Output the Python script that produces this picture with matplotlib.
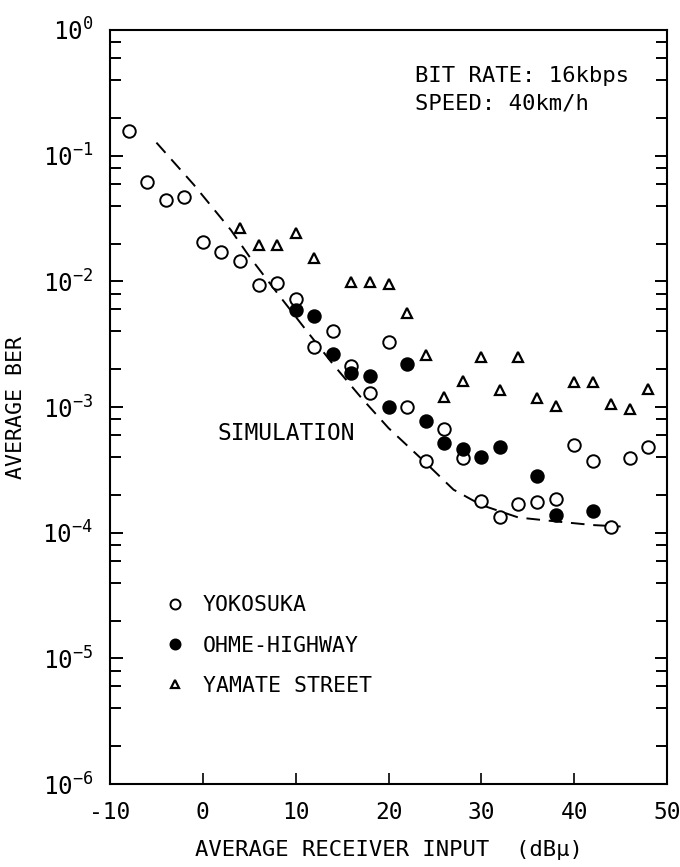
import numpy as np
import matplotlib
matplotlib.use("Agg")
import matplotlib.pyplot as plt
from matplotlib.ticker import LogLocator, FixedLocator, NullFormatter

# ---- measured BER vs receiver input ----
yoko_x = [-8, -6, -4, -2, 0, 2, 4, 6, 8, 10, 12, 14, 16, 18, 20, 22, 24, 26, 28, 30,
          32, 34, 36, 38, 40, 42, 44, 46, 48]
yoko_ber = [0.158, 0.0614, 0.0444, 0.0467, 0.0207, 0.0172, 0.0146, 0.00935, 0.00977,
            0.0072, 0.00303, 0.00403, 0.00213, 0.0013, 0.00331, 0.000996, 0.000373,
            0.000665, 0.000392, 0.000180, 0.000134, 0.000169, 0.000177, 0.000186,
            0.000499, 0.000373, 0.000111, 0.000392, 0.000479]

ohme_x = [10, 12, 14, 16, 18, 20, 22, 24, 26, 28, 30, 32, 36, 38, 42]
ohme_ber = [0.00592, 0.0053, 0.00264, 0.00186, 0.00177, 0.000996, 0.00219, 0.00078,
            0.000515, 0.000463, 0.000400, 0.000484, 0.000283, 0.000139, 0.00015]

yamate_x = [4, 6, 8, 10, 12, 16, 18, 20, 22, 24, 26, 28, 30, 32, 34, 36, 38, 40, 42,
            44, 46, 48]
yamate_ber = [0.0264, 0.0195, 0.0195, 0.0244, 0.0154, 0.00995, 0.00995, 0.0095,
              0.00564, 0.0026, 0.0012, 0.00161, 0.0025, 0.00137, 0.0025, 0.00117,
              0.00101, 0.00159, 0.00159, 0.00106, 0.00096, 0.00139]

# simulation curve
sim_x = [-5, -1, 3, 5, 8, 11, 14, 17, 20, 24, 27, 30, 34, 38, 42, 45]
sim_ber = [0.127, 0.059, 0.0257, 0.0158, 0.0081, 0.0042, 0.0022, 0.0012, 0.00068,
           0.00036, 0.00022, 0.000166, 0.000132, 0.000123, 0.000115, 0.000112]

x_ticks = [-10, 0, 10, 20, 30, 40, 50]
y_ticks = [1e-6, 1e-5, 1e-4, 1e-3, 1e-2, 1e-1, 1e0]
y_ticklabels = [r"$\mathregular{10^{%d}}$" % e for e in range(-6, 1)]

plt.rcParams["font.family"] = ["DejaVu Sans Mono"]
plt.rcParams["axes.unicode_minus"] = False

fig = plt.figure(figsize=(6.8, 8.67), dpi=100)
ax = fig.add_axes([0.1618, 0.0957, 0.8191, 0.8697])

ax.plot(sim_x, sim_ber, color="black", lw=1.4, dashes=(7, 4.5))
ax.plot(yoko_x, yoko_ber, "o", ms=9, mfc="white", mec="black", mew=1.4,
        linestyle="none", label="YOKOSUKA")
ax.plot(ohme_x, ohme_ber, "o", ms=9, mfc="black", mec="black", mew=1.4,
        linestyle="none", label="OHME-HIGHWAY")
ax.plot(yamate_x, yamate_ber, "^", ms=6.5, mfc="white", mec="black", mew=1.6,
        linestyle="none", label="YAMATE STREET")

ax.set_yscale("log")
ax.set_xlim(-10, 50)
ax.set_ylim(1e-6, 1e0)

ax.xaxis.set_major_locator(FixedLocator(x_ticks))
ax.set_xticklabels([str(v) for v in x_ticks], fontsize=16.5)
ax.yaxis.set_major_locator(FixedLocator(y_ticks))
ax.set_yticklabels(y_ticklabels, fontsize=17.5)
ax.yaxis.set_minor_locator(LogLocator(base=10, subs=[2, 4, 6, 8]))
ax.yaxis.set_minor_formatter(NullFormatter())

ax.tick_params(axis="x", which="both", direction="in", top=False, bottom=True,
               length=8, width=1.2, pad=12)
ax.tick_params(axis="y", which="major", direction="in", left=True, right=True,
               length=9, width=1.4, pad=12)
ax.tick_params(axis="y", which="minor", direction="in", left=True, right=True,
               length=8, width=1.4)
for sp in ax.spines.values():
    sp.set_linewidth(1.5)

ax.set_xlabel("AVERAGE RECEIVER INPUT  (dB\u03bc)", fontsize=16, labelpad=12)
ax.set_ylabel("AVERAGE BER", fontsize=15.5, labelpad=12)

ax.text(1.6, 6.2e-4, "SIMULATION", fontsize=16.5, va="center", ha="left")
ax.text(0.548, 0.939, "BIT RATE: 16kbps", transform=ax.transAxes, fontsize=16,
        va="center", ha="left")
ax.text(0.548, 0.902, "SPEED: 40km/h", transform=ax.transAxes, fontsize=16,
        va="center", ha="left")

ax.legend(loc="upper left", bbox_to_anchor=(0.085, 0.262), frameon=False,
          fontsize=15.5, handlelength=0.8, handletextpad=0.9, labelspacing=0.95,
          markerscale=0.8, borderaxespad=0)

fig.savefig("out.png", dpi=100)
